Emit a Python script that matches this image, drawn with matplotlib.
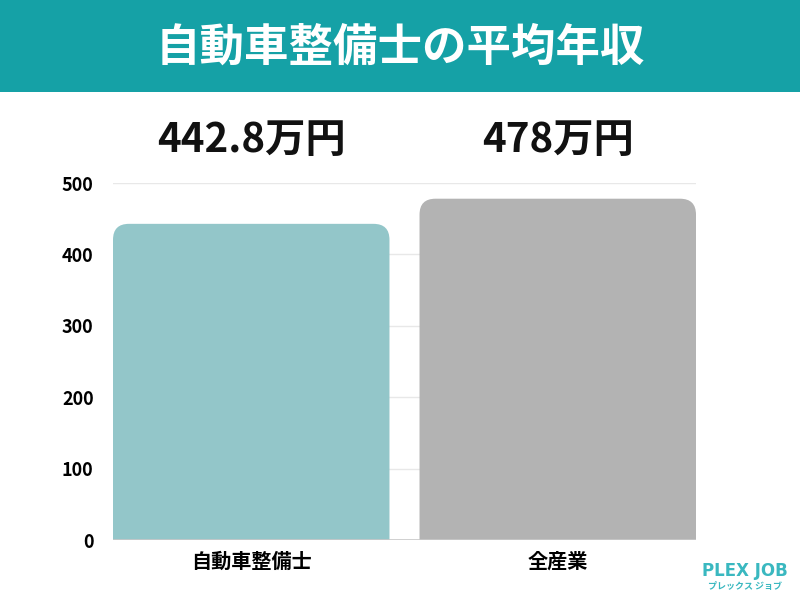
import matplotlib.pyplot as plt
from matplotlib.patches import FancyBboxPatch, Rectangle

plt.rcParams['font.family'] = ['Noto Sans CJK JP', 'DejaVu Sans']

# データ
categories = ['自動車整備士', '全産業']
values = [442.8, 478]
value_labels = ['442.8万円', '478万円']
bar_colors = ['#93c6c9', '#b3b3b3']
yticks = [0, 100, 200, 300, 400, 500]
title = '自動車整備士の平均年収'

fig = plt.figure(figsize=(8, 6), dpi=100)

# タイトル帯
fig.patches.append(Rectangle((0, 1 - 92 / 600), 1, 92 / 600, transform=fig.transFigure,
                             facecolor='#15a1a6', edgecolor='none', zorder=0))
fig.text(0.5, 1 - 48 / 600, title, ha='center', va='center', color='white',
         fontsize=32, fontweight='bold')

ax = fig.add_axes([113 / 800, 60 / 600, 583 / 800, 357 / 600])
w = 0.902
ax.set_xlim(-w / 2, 1 + w / 2)
ax.set_ylim(0, 500)

# 角丸バー
r = 0.052
for i, (v, c) in enumerate(zip(values, bar_colors)):
    p = FancyBboxPatch((i - w / 2, -40), w, v + 40,
                       boxstyle=f'round,pad=0,rounding_size={r}',
                       mutation_aspect=430, facecolor=c, edgecolor='none',
                       zorder=3, clip_on=True)
    ax.add_patch(p)
    ax.text(i, 1.0 + 43 / 357, value_labels[i], transform=ax.get_xaxis_transform(),
            ha='center', va='center', fontsize=29, fontweight='bold', color='#111111')

for y in yticks[1:]:
    ax.axhline(y, color='#e8e8e8', lw=1, zorder=1)
ax.axhline(0, color='#c8c8c8', lw=1.2, zorder=4)

ax.set_yticks(yticks)
ax.set_yticklabels([str(t) for t in yticks], fontsize=13, fontweight='bold')
ax.set_xticks([0, 1])
ax.set_xticklabels(categories, fontsize=14.5, fontweight='bold')
ax.tick_params(length=0)
ax.tick_params(axis='y', pad=14)
ax.tick_params(axis='x', pad=8)
for s in ax.spines.values():
    s.set_visible(False)

# ロゴ
fig.text(745 / 800, 1 - 571 / 600, 'PLEX JOB', ha='center', va='center',
         color='#3ab8c0', fontsize=12, fontweight='bold', family=['DejaVu Sans'])
fig.text(745 / 800, 1 - 586 / 600, 'プレックス ジョブ', ha='center', va='center',
         color='#3ab8c0', fontsize=6.5, fontweight='bold')

fig.savefig('out.png', dpi=100)
